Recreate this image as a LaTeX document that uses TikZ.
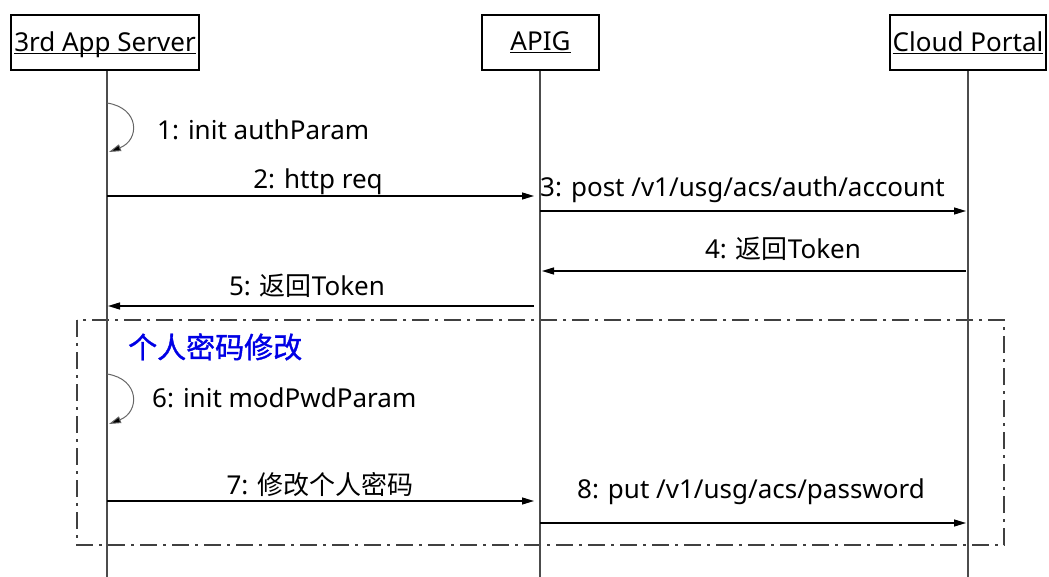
\documentclass[tikz,border=0pt]{standalone}
\usepackage{fontspec}
\setmainfont{Noto Sans}
\newfontfamily\cjk{Noto Sans CJK SC}
\newfontfamily\cjktitle[FakeBold=1.2]{Noto Sans CJK SC}
\usetikzlibrary{positioning,arrows.meta}

\newcommand{\actorname}[1]{\underline{\raisebox{0pt}[\height][0pt]{#1}}}

\begin{document}
\begin{tikzpicture}[
    x=1pt, y=-1pt,
    font=\fontsize{26}{30}\selectfont,
    >={Triangle[length=12pt,width=7pt]},
    actor/.style={
        draw=black,
        fill=white,
        line width=1.3pt,
        minimum height=55pt,
        inner sep=0pt
    },
    lifeline/.style={draw=black!70, line width=1.3pt},
    msg/.style={->, line width=1.3pt, draw=black},
    selfmsg/.style={-{Triangle[length=12pt,width=7pt,fill=black]}, line width=1pt, draw=black!60},
    msglabel/.style={inner sep=0pt, anchor=base},
    frame/.style={draw=black!75, line width=1.3pt, dash pattern=on 17pt off 6pt on 3pt off 6pt}
]
    \useasboundingbox (0,0) rectangle (1049,577);

    % combined fragment
    \draw[frame] (77,320) rectangle (1004,545);
    \node[anchor=base west, inner sep=0pt, text=blue!90!black,
          font=\fontsize{29}{33}\selectfont] (fraglabel) at (128,358)
        {\cjktitle 个人密码修改};

    % lifelines
    \coordinate (srvtop) at (107,70);   \coordinate (srvend) at (107,577);
    \coordinate (apitop) at (540,70);   \coordinate (apiend) at (540,577);
    \coordinate (cloudtop) at (968,70); \coordinate (cloudend) at (968,577);
    \draw[lifeline] (srvtop) -- (srvend);
    \draw[lifeline] (apitop) -- (apiend);
    \draw[lifeline] (cloudtop) -- (cloudend);

    \node[actor, minimum width=188pt] (server) at (105,42.5) {\actorname{3rd App Server}};
    \node[actor, minimum width=117pt] (apig) at (540.5,42.5) {\actorname{APIG}};
    \node[actor, minimum width=156pt] (cloud) at (968,42.5) {\actorname{Cloud Portal}};

    % message end points
    \coordinate (m1a) at (107,103);  \coordinate (m1b) at (109,152);
    \coordinate (m2a) at (107,196);  \coordinate (m2b) at (534,196);
    \coordinate (m3a) at (540,211);  \coordinate (m3b) at (966,211);
    \coordinate (m4a) at (966,271);  \coordinate (m4b) at (542,271);
    \coordinate (m5a) at (534,306);  \coordinate (m5b) at (108,306);
    \coordinate (m6a) at (107,374);  \coordinate (m6b) at (109,424);
    \coordinate (m7a) at (107,501);  \coordinate (m7b) at (534,501);
    \coordinate (m8a) at (540,523);  \coordinate (m8b) at (966,523);

    % messages
    \draw[selfmsg] (m1a) .. controls (140,108) and (140,140) .. (m1b);
    \draw[msg] (m2a) -- (m2b);
    \draw[msg] (m3a) -- (m3b);
    \draw[msg] (m4a) -- (m4b);
    \draw[msg] (m5a) -- (m5b);
    \draw[selfmsg] (m6a) .. controls (140,379) and (140,412) .. (m6b);
    \draw[msg] (m7a) -- (m7b);
    \draw[msg] (m8a) -- (m8b);

    % labels
    \node[msglabel, anchor=base west] (l1) at (157,140) {1: init authParam};
    \node[msglabel] (l2) at (318,189) {2: http req};
    \node[msglabel, anchor=base west] (l3) at (540,197) {3: post /v1/usg/acs/auth/account};
    \node[msglabel] (l4) at (783,259) {4: {\cjk 返回}Token};
    \node[msglabel] (l5) at (307,295) {5: {\cjk 返回}Token};
    \node[msglabel, anchor=base west] (l6) at (152,407) {6: init modPwdParam};
    \node[msglabel] (l7) at (320,494) {7: {\cjk 修改个人密码}};
    \node[msglabel] (l8) at (751,498) {8: put /v1/usg/acs/password};

\end{tikzpicture}
\end{document}
